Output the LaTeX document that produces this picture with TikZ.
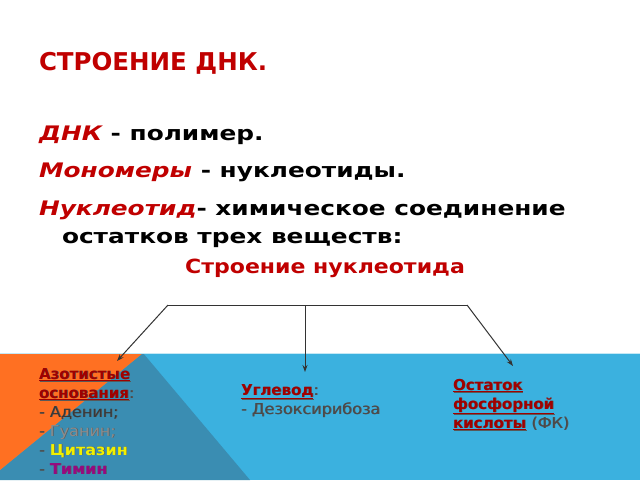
\documentclass[tikz,border=0pt]{standalone}
\usepackage{fontspec}
\setmainfont{DejaVu Sans}
\newfontfamily\widefont{DejaVu Sans}[FakeStretch=1.24]
\newfontfamily\midfont{DejaVu Sans}[FakeStretch=1.13]
\newfontfamily\lowfont{DejaVu Sans}[FakeStretch=1.07]
\usetikzlibrary{arrows.meta}
\definecolor{hred}{HTML}{C00000}
\definecolor{bred}{HTML}{A00000}
\definecolor{lblue}{HTML}{3BB1DF}
\definecolor{dteal}{HTML}{3A8DB2}
\definecolor{orng}{HTML}{FF7022}
\definecolor{ink}{HTML}{333333}
\definecolor{greytxt}{HTML}{4A4A4A}
\definecolor{dgrey}{HTML}{383838}
\definecolor{lgrey}{HTML}{8C8C8C}
\definecolor{ylw}{HTML}{F0F000}
\definecolor{purp}{HTML}{960A80}
\newcommand{\shtext}[2]{\makebox[0pt][l]{\kern0.7pt\raisebox{-0.7pt}{\textcolor{black!65}{#2}}}\textcolor{#1}{#2}}
\begin{document}
\begin{tikzpicture}[x=1pt,y=-1pt,
  txt/.style={anchor=base west,inner sep=0pt,outer sep=0pt},
  big/.style={txt,font=\widefont\fontsize{20}{24}\selectfont\bfseries},
  small/.style={txt,font=\lowfont\fontsize{15}{18}\selectfont},
  head/.style={txt,font=\fontsize{15}{18}\selectfont\bfseries},
  conn/.style={draw=ink,line width=1pt},
  arr/.style={conn,-{Stealth[length=7pt,width=5pt]}}]
\useasboundingbox (0,0) rectangle (640,480);
% background
\fill[white] (0,0) rectangle (640,480);
\fill[lblue] (0,353) rectangle (640,480);
\fill[dteal] (0,480) -- (0,470) -- (143,353) -- (250,480) -- cycle;
\fill[orng] (0,353) -- (143,353) -- (0,470) -- cycle;
\draw[white!70!lblue,line width=0.8pt] (0,353.4) -- (640,353.4);
% headings
\node[txt,font=\fontsize{24.5}{28}\selectfont\bfseries,text=hred] (title) at (39,70) {СТРОЕНИЕ ДНК.};
\node[big] (l1) at (39,140) {\textcolor{hred}{\itshape ДНК} - полимер.};
\node[big] (l2) at (39,177) {\textcolor{hred}{\itshape Мономеры} - нуклеотиды.};
\node[big] (l3) at (39,215) {\textcolor{hred}{\itshape Нуклеотид}- химическое соединение};
\node[big] (l4) at (62,243) {остатков трех веществ:};
\node[anchor=base,inner sep=0pt,font=\midfont\fontsize{19.5}{22}\selectfont\bfseries,text=hred] (sub) at (325,273) {Строение нуклеотида};
% connectors
\coordinate (hl) at (168,305);
\coordinate (hc) at (305,305);
\coordinate (hr) at (467,305);
\coordinate (tl) at (117,361);
\coordinate (tc) at (305,372);
\coordinate (tr) at (513,366);
\draw[conn] (hl) -- (hr);
\draw[arr] (hl) -- (tl);
\draw[arr] (hc) -- (tc);
\draw[arr] (hr) -- (tr);
% left block
\node[head] (a1) at (39,379) {\shtext{bred}{\underline{Азотистые}}};
\node[head] (a2) at (39,398) {\shtext{bred}{\underline{основания}}\shtext{greytxt}{\lowfont\mdseries:}};
\node[small] (a3) at (39,417) {\shtext{dgrey}{- Аденин;}};
\node[small] (a4) at (39,436) {\shtext{greytxt}{-} \shtext{lgrey}{Гуанин;}};
\node[small] (a5) at (39,455) {\shtext{greytxt}{-} \shtext{ylw}{\bfseries Цитазин}};
\node[small] (a6) at (39,474) {\shtext{greytxt}{-} \shtext{purp}{\bfseries Тимин}};
% middle block
\node[head] (b1) at (241,395) {\shtext{bred}{\underline{Углевод}}\shtext{greytxt}{\lowfont\mdseries:}};
\node[small] (b2) at (241,414) {\shtext{greytxt}{- Дезоксирибоза}};
% right block
\node[head] (c1) at (453,390) {\shtext{bred}{\underline{Остаток}}};
\node[head] (c2) at (453,409) {\shtext{bred}{\underline{фосфорной}}};
\node[head] (c3) at (453,428) {\shtext{bred}{\underline{кислоты}} \shtext{greytxt}{\lowfont\mdseries(ФК)}};
\end{tikzpicture}
\end{document}
